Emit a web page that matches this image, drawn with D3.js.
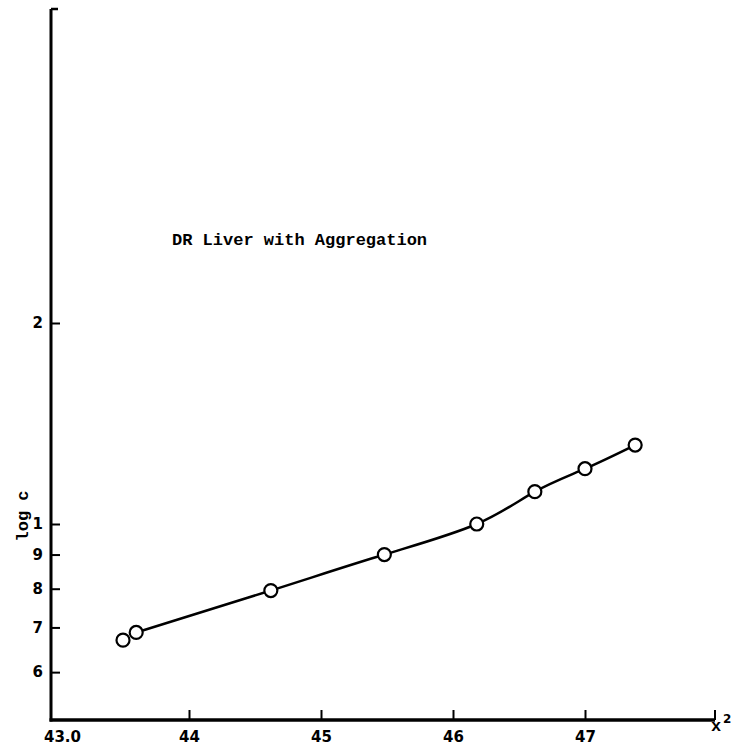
<!DOCTYPE html>
<html>
<head>
<meta charset="utf-8">
<script src="https://cdn.jsdelivr.net/npm/d3@7"></script>
<style>
  html, body { margin: 0; padding: 0; background: #fff; }
  svg { display: block; }
</style>
</head>
<body>
<svg id="chart" width="736" height="746"></svg>
<script>
// ---- data ----
const xValues = [43.50, 43.60, 44.62, 45.48, 46.18, 46.62, 47.00, 47.38];
const cValues = [0.670, 0.688, 0.795, 0.900, 1.000, 1.118, 1.210, 1.313];
const curveFrom = 1; // the smooth curve starts at the second point
const xTicks = [43, 44, 45, 46, 47, 48];
const xTickLabels = ["43.0", "44", "45", "46", "47", ""];
const yTicks = [0.6, 0.7, 0.8, 0.9, 1, 2];
const yTickLabels = ["6", "7", "8", "9", "1", "2"];
const titleText = "DR Liver with Aggregation";
const yTitle = "log c";
const xTitle = "x";
const xTitleSup = "2";

const svg = d3.select("#chart");

const x = d3.scaleLinear().domain([43, 48]).range([57, 717]);
const y = d3.scaleLog().domain([0.5087, 5.906]).range([720, 9]);

const axisX0 = 51, axisY0 = 720;

// Y axis
const gy = svg.append("g").attr("transform", `translate(${axisX0},0)`);
gy.append("line").attr("x1", 0).attr("x2", 0).attr("y1", y.range()[1]).attr("y2", axisY0 + 1.5)
  .attr("stroke", "#000").attr("stroke-width", 3);
gy.append("line").attr("x1", 0).attr("x2", 7).attr("y1", y.range()[1]).attr("y2", y.range()[1])
  .attr("stroke", "#000").attr("stroke-width", 2.5);
const yAxis = d3.axisRight(y).tickValues(yTicks).tickFormat((d, i) => yTickLabels[i]).tickSize(9).tickSizeOuter(0);
const gyA = svg.append("g").attr("transform", `translate(${axisX0},0)`).call(yAxis);
gyA.select(".domain").remove();
gyA.selectAll(".tick line").attr("stroke", "#000").attr("stroke-width", 2);
gyA.selectAll(".tick text").attr("x", -8).attr("text-anchor", "end")
  .attr("font-family", "DejaVu Sans").attr("font-weight", "bold").attr("font-size", 15).attr("fill", "#000");

// X axis
svg.append("line").attr("x1", axisX0 - 1.5).attr("x2", x(48) - 2).attr("y1", axisY0).attr("y2", axisY0)
  .attr("stroke", "#000").attr("stroke-width", 3.5);
const xAxis = d3.axisBottom(x).tickValues(xTicks).tickFormat((d, i) => xTickLabels[i]).tickSize(-10).tickSizeOuter(0);
const gx = svg.append("g").attr("transform", `translate(0,${axisY0})`).call(xAxis);
gx.select(".domain").remove();
gx.selectAll(".tick line").attr("stroke", "#000").attr("stroke-width", 2)
  .attr("display", d => d === 43 ? "none" : null);
gx.selectAll(".tick").filter(d => d === 48).attr("transform", `translate(${x(48) - 2},0)`);
gx.selectAll(".tick text").attr("y", 22).attr("dy", null)
  .attr("font-family", "DejaVu Sans").attr("font-weight", "bold").attr("font-size", 15).attr("fill", "#000")
  .attr("dx", d => d === 43 ? 5 : 0);

// axis titles
const xt = svg.append("text").attr("x", 711).attr("y", 731)
  .attr("font-family", "Liberation Mono").attr("font-weight", "bold").attr("font-size", 17).attr("fill", "#000");
xt.append("tspan").text(xTitle);
xt.append("tspan").attr("x", 723).attr("y", 723).attr("font-family", "DejaVu Sans").attr("font-size", 12).text(xTitleSup);

svg.append("text").attr("transform", "translate(28,516) rotate(-90)")
  .attr("text-anchor", "middle")
  .attr("font-family", "Liberation Mono").attr("font-weight", "bold").attr("font-size", 17).attr("fill", "#000")
  .text(yTitle);

// title
svg.append("text").attr("x", 172).attr("y", 245)
  .attr("font-family", "Liberation Mono").attr("font-weight", "bold").attr("font-size", 17).attr("fill", "#000")
  .text(titleText);

// curve
const pts = xValues.map((v, i) => [v, cValues[i]]);
const line = d3.line().x(d => x(d[0])).y(d => y(d[1])).curve(d3.curveNatural);
svg.append("path").datum(pts.slice(curveFrom)).attr("d", line)
  .attr("fill", "none").attr("stroke", "#000").attr("stroke-width", 2.5);

// points
svg.selectAll("circle.pt").data(pts).enter().append("circle").attr("class", "pt")
  .attr("cx", d => x(d[0])).attr("cy", d => y(d[1])).attr("r", 6.5)
  .attr("fill", "#fff").attr("stroke", "#000").attr("stroke-width", 2.2);
</script>
</body>
</html>
